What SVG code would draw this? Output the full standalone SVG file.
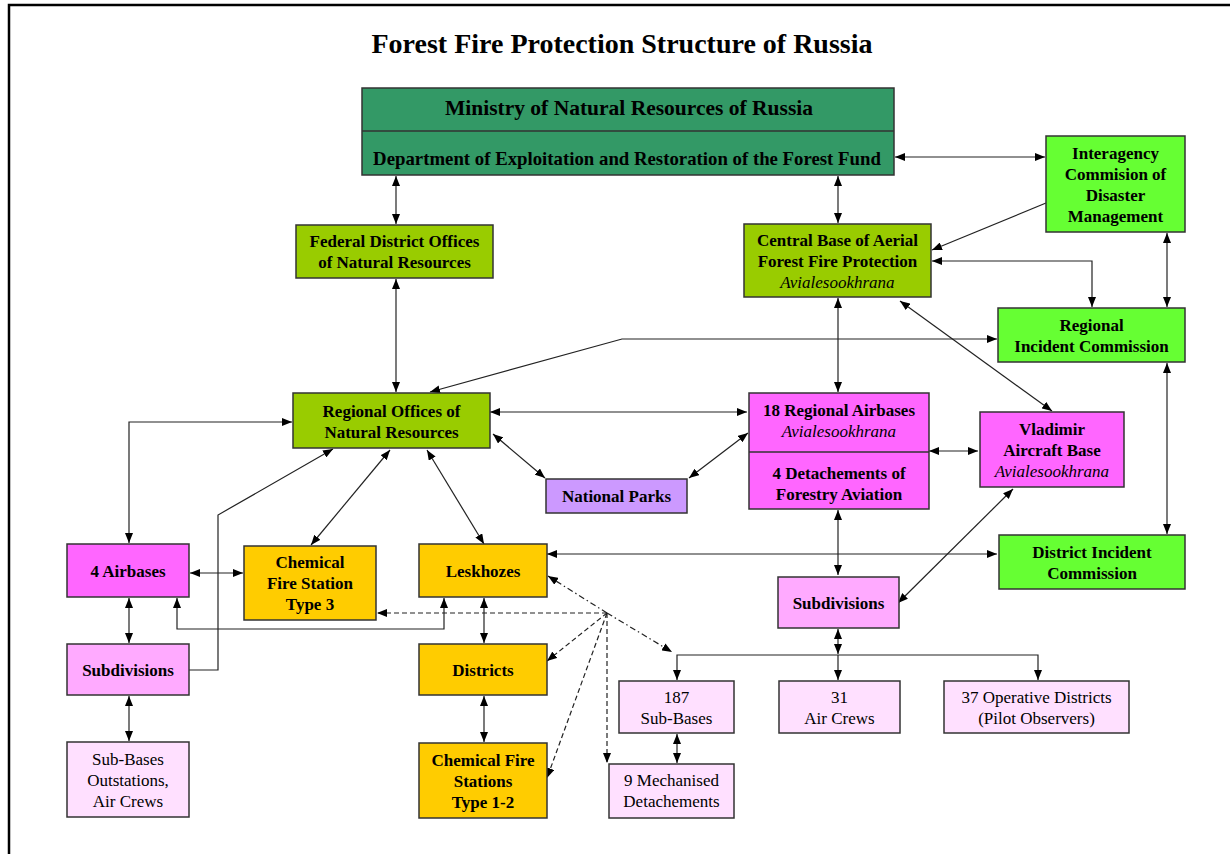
<svg xmlns="http://www.w3.org/2000/svg" width="1230" height="854" viewBox="0 0 1230 854">
<style>
.t{font-family:"Liberation Serif","Times New Roman",serif;font-size:17px;font-weight:bold;text-anchor:middle;fill:#000}
.i{font-style:italic;font-weight:normal}
.n{font-weight:normal}
.b{stroke:#333;stroke-width:1.5}
.c{fill:none;stroke:#222;stroke-width:1.2;marker-start:url(#a);marker-end:url(#a)}
.e{fill:none;stroke:#222;stroke-width:1.2;marker-end:url(#a)}
.d{stroke-dasharray:5,3}
.dd{stroke-dasharray:6,3,1.5,3}
.g1{fill:#339966}.g2{fill:#99cc00}.g3{fill:#66ff33}.m1{fill:#ff66ff}.m2{fill:#ffaaff}.m3{fill:#ffe0ff}.y{fill:#ffcc00}.v{fill:#cc99ff}
</style>
<defs>
<marker id="a" viewBox="0 0 10 8" refX="10" refY="4" markerWidth="10" markerHeight="8" markerUnits="userSpaceOnUse" orient="auto-start-reverse">
<path d="M0,0 L10,4 L0,8 z" fill="#000"/>
</marker>
</defs>
<rect width="1230" height="854" fill="#fff"/>
<path d="M9,854 V5 H1230" fill="none" stroke="#000" stroke-width="2.5"/>
<text x="622" y="53" class="t" style="font-size:28px">Forest Fire Protection Structure of Russia</text>

<g id="connectors">
<path class="c" d="M396,176 V224"/>
<path class="c" d="M838,176 V223"/>
<path class="c" d="M895,157 H1045"/>
<path class="e" d="M1046,203 L932,250"/>
<path class="c" d="M932,261 H1092 V307"/>
<path class="c" d="M1167,233 V307"/>
<path class="c" d="M1167,363 V534"/>
<path class="c" d="M838,298 V392"/>
<path class="c" d="M900,301 L1052,411"/>
<path class="c" d="M997,339 H622 L430,392"/>
<path class="c" d="M396,279 V392"/>
<path class="c" d="M490,412 H747"/>
<path class="c" d="M493,434 L545,478"/>
<path class="c" d="M689,478 L748,433"/>
<path class="c" d="M929,451 H978"/>
<path class="c" d="M292,422 H129 V543"/>
<path class="c" d="M333,449 L218,515 V670 H171"/>
<path class="c" d="M390,450 L311,545"/>
<path class="c" d="M427,450 L484,544"/>
<path class="c" d="M190,573 H243"/>
<path class="c" d="M129,598 V643"/>
<path class="c" d="M444,598 V629 H177 V598"/>
<path class="c" d="M484,598 V643"/>
<path class="c" d="M547,554 H997"/>
<path class="c" d="M838,510 V575"/>
<path class="c" d="M1013,489 L898,603"/>
<path class="c" d="M838,629 V654"/>
<path class="c" d="M677,680 V655 H1038 V680"/>
<path class="e" d="M838,655 V680"/>
<path class="c" d="M484,696 V742"/>
<path class="c" d="M677,734 V763"/>
<path class="c" d="M129,696 V741"/>
<path class="e d" d="M607,613 H377"/>
<path class="e dd" d="M607,613 L548,576"/>
<path class="e dd" d="M607,613 L672,652"/>
<path class="e d" d="M607,613 L547,661"/>
<path class="e d" d="M607,613 L547,778"/>
<path class="e d" d="M607,613 V763"/>
</g>

<g id="ministry">
<rect x="362" y="88" width="532" height="87" class="b g1"/>
<line x1="362" y1="131" x2="894" y2="131" class="b"/>
<text x="629" y="115" class="t" style="font-size:21.5px">Ministry of Natural Resources of Russia</text>
<text x="627" y="165" class="t" style="font-size:18.8px">Department of Exploitation and Restoration of the Forest Fund</text>
</g>
<g id="federal">
<rect x="296" y="225" width="197" height="53" class="b g2"/>
<text x="394.5" y="247" class="t">Federal District Offices</text>
<text x="394.5" y="268" class="t">of Natural Resources</text>
</g>
<g id="central">
<rect x="744" y="224" width="187" height="73" class="b g2"/>
<text x="837.5" y="246" class="t">Central Base of Aerial</text>
<text x="837.5" y="267" class="t">Forest Fire Protection</text>
<text x="837.5" y="288" class="t i">Avialesookhrana</text>
</g>
<g id="interagency">
<rect x="1046" y="136" width="139" height="96" class="b g3"/>
<text x="1115.5" y="159" class="t">Interagency</text>
<text x="1115.5" y="180" class="t">Commision of</text>
<text x="1115.5" y="201" class="t">Disaster</text>
<text x="1115.5" y="222" class="t">Management</text>
</g>
<g id="regional-incident">
<rect x="998" y="308" width="187" height="54" class="b g3"/>
<text x="1091.5" y="331" class="t">Regional</text>
<text x="1091.5" y="352" class="t">Incident Commission</text>
</g>
<g id="regional-offices">
<rect x="293" y="393" width="197" height="55" class="b g2"/>
<text x="391.5" y="417" class="t">Regional Offices of</text>
<text x="391.5" y="438" class="t">Natural Resources</text>
</g>
<g id="regional-airbases">
<rect x="749" y="393" width="180" height="116" class="b m1"/>
<line x1="749" y1="452" x2="929" y2="452" class="b"/>
<text x="839" y="416" class="t">18 Regional Airbases</text>
<text x="839" y="437" class="t i">Avialesookhrana</text>
<text x="839" y="479" class="t">4 Detachements of</text>
<text x="839" y="500" class="t">Forestry Aviation</text>
</g>
<g id="vladimir">
<rect x="980" y="412" width="144" height="75" class="b m1"/>
<text x="1052" y="435" class="t">Vladimir</text>
<text x="1052" y="456" class="t">Aircraft Base</text>
<text x="1052" y="477" class="t i">Avialesookhrana</text>
</g>
<g id="national-parks">
<rect x="546" y="479" width="141" height="34" class="b v"/>
<text x="616.5" y="502" class="t">National Parks</text>
</g>
<g id="district-incident">
<rect x="999" y="535" width="186" height="54" class="b g3"/>
<text x="1092" y="558" class="t">District Incident</text>
<text x="1092" y="579" class="t">Commission</text>
</g>
<g id="airbases4">
<rect x="67" y="544" width="122" height="53" class="b m1"/>
<text x="128" y="577" class="t">4 Airbases</text>
</g>
<g id="chem3">
<rect x="244" y="546" width="132" height="74" class="b y"/>
<text x="310" y="568" class="t">Chemical</text>
<text x="310" y="589" class="t">Fire Station</text>
<text x="310" y="610" class="t">Type 3</text>
</g>
<g id="leskhozes">
<rect x="419" y="544" width="128" height="53" class="b y"/>
<text x="483" y="577" class="t">Leskhozes</text>
</g>
<g id="subdivisions-right">
<rect x="778" y="577" width="121" height="51" class="b m2"/>
<text x="838.5" y="609" class="t">Subdivisions</text>
</g>
<g id="subdivisions-left">
<rect x="67" y="644" width="122" height="51" class="b m2"/>
<text x="128" y="676" class="t">Subdivisions</text>
</g>
<g id="districts">
<rect x="419" y="644" width="128" height="51" class="b y"/>
<text x="483" y="676" class="t">Districts</text>
</g>
<g id="subbases187">
<rect x="619" y="681" width="115" height="52" class="b m3"/>
<text x="676.5" y="703" class="t n">187</text>
<text x="676.5" y="724" class="t n">Sub-Bases</text>
</g>
<g id="aircrews31">
<rect x="779" y="681" width="121" height="52" class="b m3"/>
<text x="839.5" y="703" class="t n">31</text>
<text x="839.5" y="724" class="t n">Air Crews</text>
</g>
<g id="operative37">
<rect x="944" y="681" width="185" height="52" class="b m3"/>
<text x="1036.5" y="703" class="t n">37 Operative Districts</text>
<text x="1036.5" y="724" class="t n">(Pilot Observers)</text>
</g>
<g id="outstations">
<rect x="67" y="742" width="122" height="75" class="b m3"/>
<text x="128" y="765" class="t n">Sub-Bases</text>
<text x="128" y="786" class="t n">Outstations,</text>
<text x="128" y="807" class="t n">Air Crews</text>
</g>
<g id="chem12">
<rect x="419" y="743" width="128" height="75" class="b y"/>
<text x="483" y="766" class="t">Chemical Fire</text>
<text x="483" y="787" class="t">Stations</text>
<text x="483" y="808" class="t">Type 1-2</text>
</g>
<g id="mechanised">
<rect x="609" y="764" width="125" height="54" class="b m3"/>
<text x="671.5" y="786" class="t n">9 Mechanised</text>
<text x="671.5" y="807" class="t n">Detachements</text>
</g>
</svg>
